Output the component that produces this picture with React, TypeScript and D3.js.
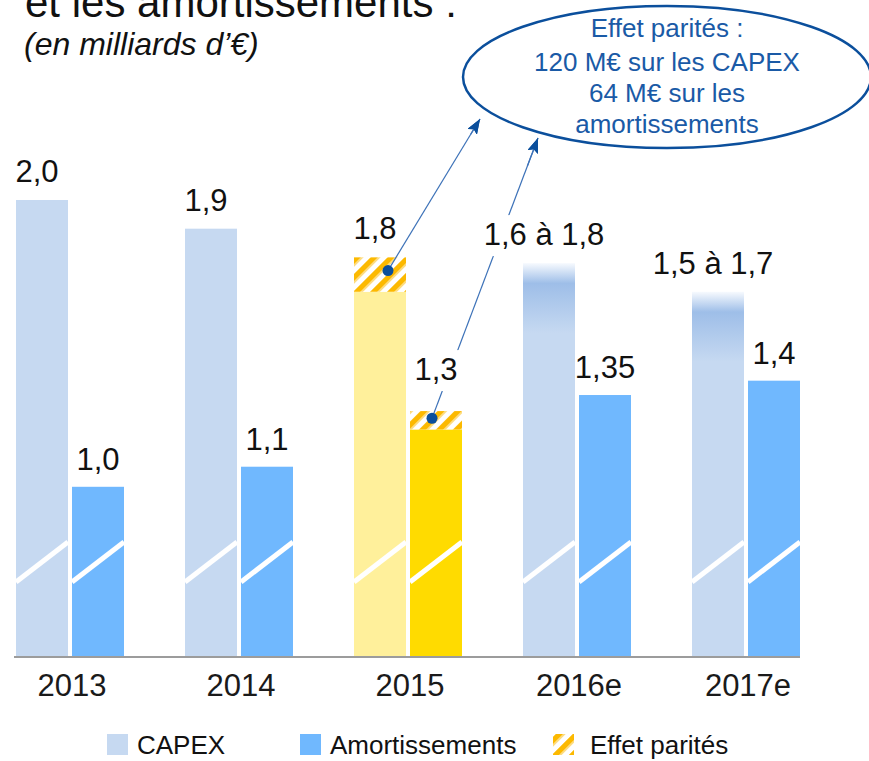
import React from 'react';
import * as d3 from 'd3';

// ---------- data ----------
const years = ['2013', '2014', '2015', '2016e', '2017e'];
const capex = [2.0, 1.9, 1.68, 1.78, 1.68];
const capexFx = [0, 0, 0.12, 0, 0];
const amort = [1.0, 1.07, 1.2, 1.32, 1.37];
const amortFx = [0, 0, 0.064, 0, 0];
const capexLabels = ['2,0', '1,9', '1,8', '1,6 à 1,8', '1,5 à 1,7'];
const amortLabels = ['1,0', '1,1', '1,3', '1,35', '1,4'];
const estimated = [false, false, false, true, true];
const highlighted = [false, false, true, false, false];
const legendItems = ['CAPEX', 'Amortissements', 'Effet parités'];
const noteLines = ['Effet parités :', '120 M€ sur les CAPEX', '64 M€ sur les', 'amortissements'];
const titleText = 'et les amortissements :';
const subtitleText = '(en milliards d’€)';

// ---------- layout ----------
const W = 869;
const H = 761;
const FONT = "'Liberation Sans', Arial, Helvetica, sans-serif";
const baseY = 656;
const topY = 200;
const LABEL_FS = 31;

const C_CAPEX = '#c6d9f1';
const C_AMORT = '#70b8fe';
const C_CAPEX_HL = '#fff09b';
const C_AMORT_HL = '#ffdb00';
const C_NOTE = '#1a5aa6';
const C_DARK = '#0b4f9c';

export default function App() {
  const y = d3.scaleLinear().domain([0.41, 2.0]).range([baseY, topY]);
  const x = d3
    .scaleBand<string>()
    .domain(years)
    .range([16, 16 + 5 * 169 - 61])
    .paddingInner(61 / 169)
    .paddingOuter(0);
  const xs = d3
    .scaleBand<string>()
    .domain(['capex', 'amort'])
    .range([0, x.bandwidth()])
    .paddingInner(4 / 56);
  const bw = xs.bandwidth();

  const textWidth = (s: string, fs: number) => s.length * fs * 0.55;

  // annotation anchors
  const cx15 = (x('2015') as number) + (xs('capex') as number);
  const ax15 = (x('2015') as number) + (xs('amort') as number);
  const dot1 = {
    x: cx15 + bw / 2 + 8,
    y: (y(capex[2]) + y(capex[2] + capexFx[2])) / 2 - 4,
  };
  const dot2 = {
    x: ax15 + bw / 2 - 4,
    y: (y(amort[2]) + y(amort[2] + amortFx[2])) / 2 - 2,
  };
  const tip1 = { x: 480, y: 119 };
  const tip2 = { x: 538, y: 138 };
  const segs = [
    [dot1, tip1],
    [dot2, tip2],
  ];

  // does a pointer line cross the label box? then the label gets a white backing
  const crosses = (lx: number, ly: number, w: number) =>
    segs.some(([a, b]) => {
      const yc = ly - 10;
      if (yc < Math.min(a.y, b.y) || yc > Math.max(a.y, b.y)) return false;
      const xc = a.x + ((yc - a.y) / (b.y - a.y)) * (b.x - a.x);
      return xc > lx - w / 2 - 4 && xc < lx + w / 2 + 4;
    });

  const labels: { text: string; x: number; y: number; bg: boolean }[] = [];
  years.forEach((yr, i) => {
    const gx = x(yr) as number;
    const ctop = y(capex[i] + capexFx[i]);
    const atop = y(amort[i] + amortFx[i]);
    const c = {
      text: capexLabels[i],
      x: gx + (xs('capex') as number) + bw / 2 - 5,
      y: ctop - 18,
    };
    const a = {
      text: amortLabels[i],
      x: gx + (xs('amort') as number) + bw / 2,
      y: atop - (amortFx[i] > 0 ? 31 : 17),
    };
    labels.push({ ...c, bg: crosses(c.x, c.y, textWidth(c.text, LABEL_FS)) });
    labels.push({ ...a, bg: crosses(a.x, a.y, textWidth(a.text, LABEL_FS)) });
  });

  const arrowLine = (a: { x: number; y: number }, b: { x: number; y: number }, key: string) => (
    <line
      key={key}
      x1={a.x}
      y1={a.y}
      x2={b.x}
      y2={b.y}
      stroke="#3d72b8"
      strokeWidth={1.2}
      markerEnd="url(#arrow)"
    />
  );

  const legY = 754;

  return (
    <svg
      width={W}
      height={H}
      style={{ position: 'absolute', left: 0, top: 0, background: '#fff' }}
      fontFamily={FONT}
    >
      <defs>
        <pattern
          id="hatch"
          patternUnits="userSpaceOnUse"
          width={12}
          height={12}
          patternTransform="rotate(45)"
        >
          <rect width={12} height={12} fill="#fff" />
          <rect x={0} width={5.5} height={12} fill="#fcb900" />
          <rect x={5.5} width={1.5} height={12} fill="#fddc80" />
        </pattern>
        {years.map((yr, i) =>
          estimated[i] ? (
            <linearGradient
              key={yr}
              id={`grad-${i}`}
              gradientUnits="userSpaceOnUse"
              x1={0}
              x2={0}
              y1={y(capex[i])}
              y2={y(capex[i]) + 70}
            >
              <stop offset="0" stopColor="#f7fafe" />
              <stop offset="0.29" stopColor="#9ebee8" />
              <stop offset="1" stopColor={C_CAPEX} />
            </linearGradient>
          ) : null
        )}
        <marker
          id="arrow"
          viewBox="0 0 15 11"
          refX={15}
          refY={5.5}
          markerWidth={15}
          markerHeight={11}
          markerUnits="userSpaceOnUse"
          orient="auto"
        >
          <path d="M0,0 L15,5.5 L0,11 L3,5.5 Z" fill={C_DARK} />
        </marker>
      </defs>

      {/* title (cut at the top edge, as in the source slide) */}
      <text x={25} y={17} fontSize={42} fill="#111">
        {titleText}
      </text>
      <text x={24} y={55} fontSize={32} fontStyle="italic" fill="#111">
        {subtitleText}
      </text>

      {/* bars */}
      {years.map((yr, i) => {
        const gx = x(yr) as number;
        const cxp = gx + (xs('capex') as number);
        const axp = gx + (xs('amort') as number);
        const cFill = highlighted[i] ? C_CAPEX_HL : estimated[i] ? `url(#grad-${i})` : C_CAPEX;
        const aFill = highlighted[i] ? C_AMORT_HL : C_AMORT;
        return (
          <g key={yr}>
            <rect x={cxp} y={y(capex[i])} width={bw} height={baseY - y(capex[i])} fill={cFill} />
            {capexFx[i] > 0 && (
              <rect
                x={cxp}
                y={y(capex[i] + capexFx[i])}
                width={bw}
                height={y(capex[i]) - y(capex[i] + capexFx[i])}
                fill="url(#hatch)"
              />
            )}
            <rect x={axp} y={y(amort[i])} width={bw} height={baseY - y(amort[i])} fill={aFill} />
            {amortFx[i] > 0 && (
              <rect
                x={axp}
                y={y(amort[i] + amortFx[i])}
                width={bw}
                height={y(amort[i]) - y(amort[i] + amortFx[i])}
                fill="url(#hatch)"
              />
            )}
            {/* axis-break slashes */}
            <line x1={cxp} y1={582} x2={cxp + bw} y2={542} stroke="#fff" strokeWidth={5} />
            <line x1={axp} y1={582} x2={axp + bw} y2={542} stroke="#fff" strokeWidth={5} />
            {/* category label */}
            <text
              x={gx + x.bandwidth() / 2 + 2}
              y={696}
              fontSize={31}
              textAnchor="middle"
              fill="#1a1a1a"
            >
              {yr}
            </text>
          </g>
        );
      })}

      {/* baseline */}
      <line x1={14} x2={800} y1={baseY + 1} y2={baseY + 1} stroke="#9c9c9c" strokeWidth={2} />

      {/* annotation lines */}
      {arrowLine(dot1, tip1, 'l1')}
      {arrowLine(dot2, tip2, 'l2')}

      {/* value labels */}
      {labels.map((l, i) => (
        <g key={i}>
          {l.bg && (
            <rect
              x={l.x - textWidth(l.text, LABEL_FS) / 2 - 4}
              y={l.y - 30}
              width={textWidth(l.text, LABEL_FS) + 8}
              height={41}
              fill="#fff"
            />
          )}
          <text x={l.x} y={l.y} fontSize={LABEL_FS} textAnchor="middle" fill="#111">
            {l.text}
          </text>
        </g>
      ))}

      {/* dots */}
      <circle cx={dot1.x} cy={dot1.y} r={5.5} fill={C_DARK} />
      <circle cx={dot2.x} cy={dot2.y} r={5.5} fill={C_DARK} />

      {/* note ellipse */}
      <ellipse cx={667} cy={77} rx={204} ry={71} fill="#fff" stroke={C_DARK} strokeWidth={2.5} />
      {noteLines.map((t, i) => (
        <text
          key={i}
          x={667}
          y={[37, 71, 102, 133][i]}
          fontSize={26}
          textAnchor="middle"
          fill={C_NOTE}
        >
          {t}
        </text>
      ))}
      {/* arrow heads drawn above the ellipse */}
      {arrowLine(
        { x: tip1.x - (tip1.x - dot1.x) * 0.1, y: tip1.y - (tip1.y - dot1.y) * 0.1 },
        tip1,
        'h1'
      )}
      {arrowLine(
        { x: tip2.x - (tip2.x - dot2.x) * 0.1, y: tip2.y - (tip2.y - dot2.y) * 0.1 },
        tip2,
        'h2'
      )}

      {/* legend */}
      <rect x={107} y={legY - 20} width={21} height={21} fill={C_CAPEX} />
      <text x={137} y={legY} fontSize={26} fill="#111">
        {legendItems[0]}
      </text>
      <rect x={300} y={legY - 20} width={21} height={21} fill={C_AMORT} />
      <text x={330} y={legY} fontSize={26} fill="#111">
        {legendItems[1]}
      </text>
      <rect x={553} y={legY - 20} width={21} height={21} fill="url(#hatch)" />
      <text x={590} y={legY} fontSize={26} fill="#111">
        {legendItems[2]}
      </text>
    </svg>
  );
}
